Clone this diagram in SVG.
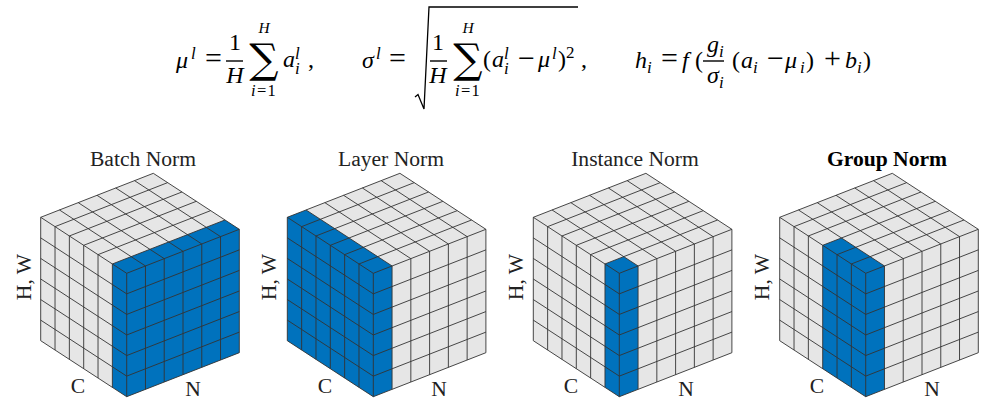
<svg xmlns="http://www.w3.org/2000/svg" width="987" height="408" viewBox="0 0 987 408">
<style>
text{font-family:"Liberation Serif",serif;fill:#222}
.t{font-size:21.6px;text-anchor:middle}
.a{font-size:21.6px;text-anchor:middle}
text.m{font-size:24px;font-style:italic;fill:#000}
text.n{font-size:24px;fill:#000}
.u{font-style:normal}
.o{font-style:normal;font-size:30px}
.s{font-size:17px}
text.l{font-size:15.5px;font-style:italic;fill:#000;text-anchor:middle}
text.i{font-size:16.5px;font-style:italic;fill:#000;text-anchor:middle;letter-spacing:1.2px}
text.S{font-family:"DejaVu Serif",serif;font-size:41px;fill:#000;text-anchor:middle}
.g{fill:#e6e6e6}
.b{fill:#0072bd}
.w{fill:none;stroke:#333;stroke-width:.9}
</style>
<defs>
<path id="hex" class="g" d="M-86-56L26.6-100L112.6-44V79.4L0 123.4L-86 67.4Z"/>
<path id="grid" class="w" d="M0 0V123.4M-14.33-9.33V114.07M-28.67-18.67V104.73M-43-28V95.4M-57.33-37.33V86.07M-71.67-46.67V76.73M-86-56V67.4
M0 0L-86-56M0 20.57L-86-35.43M0 41.13L-86-14.87M0 61.7L-86 5.7M0 82.27L-86 26.27M0 102.83L-86 46.83M0 123.4L-86 67.4
M18.77-7.33V116.07M37.53-14.67V108.73M56.3-22V101.4M75.07-29.33V94.07M93.83-36.67V86.73M112.6-44V79.4
M0 0L112.6-44M0 20.57L112.6-23.43M0 41.13L112.6-2.87M0 61.7L112.6 17.7M0 82.27L112.6 38.27M0 102.83L112.6 58.83M0 123.4L112.6 79.4
M-14.33-9.33L98.27-53.33M-28.67-18.67L83.93-62.67M-43-28L69.6-72M-57.33-37.33L55.27-81.33M-71.67-46.67L40.93-90.67M-86-56L26.6-100
M18.77-7.33L-67.23-63.33M37.53-14.67L-48.47-70.67M56.3-22L-29.7-78M75.07-29.33L-10.93-85.33M93.83-36.67L7.83-92.67M112.6-44L26.6-100"/>
</defs>
<g id="equations">
<text class="m"><tspan x="176" y="68">μ</tspan><tspan class="s" x="191" y="59">l</tspan><tspan class="o" x="205" y="68">=</tspan></text>
<text class="n" x="235" y="50" text-anchor="middle">1</text>
<rect x="226" y="60.3" width="17" height="1.4"/>
<text class="m" x="235" y="83" text-anchor="middle">H</text>
<text class="S" x="264" y="73">∑</text>
<text class="l" x="264" y="33">H</text>
<text class="i" x="264" y="96">i<tspan class="u">=1</tspan></text>
<text class="m"><tspan x="283" y="67">a</tspan><tspan class="s" x="295" y="59">l</tspan><tspan class="s" x="295" y="74">i</tspan><tspan class="u" x="308" y="67">,</tspan></text>
<text class="m"><tspan x="362" y="68">σ</tspan><tspan class="s" x="376" y="59">l</tspan><tspan class="o" x="389" y="68">=</tspan></text>
<path d="M415 97L418 94.500L424 109L429 7H578" fill="none" stroke="#000" stroke-width="1.3"/>
<text class="n" x="438" y="50" text-anchor="middle">1</text>
<rect x="430" y="60.300" width="17" height="1.4"/>
<text class="m" x="438" y="83" text-anchor="middle">H</text>
<text class="S" x="468" y="73">∑</text>
<text class="l" x="468" y="33">H</text>
<text class="i" x="468" y="96">i<tspan class="u">=1</tspan></text>
<text class="m"><tspan class="u" x="483" y="67">(</tspan><tspan x="492" y="67">a</tspan><tspan class="s" x="504" y="59">l</tspan><tspan class="s" x="504" y="74">i</tspan><tspan class="o" x="518" y="68">−</tspan><tspan x="538" y="67">μ</tspan><tspan class="s" x="552" y="59">l</tspan><tspan class="u" x="558" y="67">)</tspan><tspan class="s u" x="566" y="58">2</tspan><tspan class="u" x="581" y="67">,</tspan></text>
<text class="m"><tspan x="635" y="68">h</tspan><tspan class="s" x="647" y="73">i</tspan><tspan class="o" x="661" y="68">=</tspan><tspan x="682" y="68">f</tspan><tspan class="u" x="695" y="68">(</tspan></text>
<text class="m"><tspan x="707" y="52">g</tspan><tspan class="s" x="719" y="57">i</tspan></text>
<rect x="703" y="60.300" width="21" height="1.4"/>
<text class="m"><tspan x="707" y="83">σ</tspan><tspan class="s" x="719" y="88">i</tspan></text>
<text class="m"><tspan class="u" x="732" y="68">(</tspan><tspan x="741" y="68">a</tspan><tspan class="s" x="753" y="73">i</tspan><tspan class="o" x="767" y="68">−</tspan><tspan x="785" y="68">μ</tspan><tspan class="s" x="800" y="73">i</tspan><tspan class="u" x="806" y="68">)</tspan><tspan class="o" x="824" y="68">+</tspan><tspan x="845" y="68">b</tspan><tspan class="s" x="857" y="73">i</tspan><tspan class="u" x="863" y="68">)</tspan></text>
</g>
<g id="batch-norm">
<text class="t" x="143" y="166">Batch Norm</text>
<g transform="translate(126.7 273.3)"><use href="#hex"/><path class="b" d="M-14.33-9.33L98.27-53.33L112.6-44V79.4L0 123.4L-14.33 114.07Z"/><use href="#grid"/></g>
<text class="a" transform="translate(31 277) rotate(-90)">H, W</text>
<text class="a" x="78" y="393">C</text>
<text class="a" x="193" y="396">N</text>
</g>
<g id="layer-norm">
<text class="t" x="391" y="166">Layer Norm</text>
<g transform="translate(373.3 273.3)"><use href="#hex"/><path class="b" d="M-86-56L-67.23-63.33L18.77-7.33V116.07L0 123.4L-86 67.4Z"/><use href="#grid"/></g>
<text class="a" transform="translate(276 277) rotate(-90)">H, W</text>
<text class="a" x="325" y="393">C</text>
<text class="a" x="439" y="396">N</text>
</g>
<g id="instance-norm">
<text class="t" x="635" y="166">Instance Norm</text>
<g transform="translate(619.3 273.3)"><use href="#hex"/><path class="b" d="M-14.33-9.33L4.44-16.67L18.77-7.33V116.07L0 123.4L-14.33 114.07Z"/><use href="#grid"/></g>
<text class="a" transform="translate(523 277) rotate(-90)">H, W</text>
<text class="a" x="571" y="393">C</text>
<text class="a" x="686" y="396">N</text>
</g>
<g id="group-norm">
<text class="t" x="887" y="166" font-weight="bold" style="fill:#000">Group Norm</text>
<g transform="translate(865.7 273.3)"><use href="#hex"/><path class="b" d="M-43-28L-24.23-35.33L18.77-7.33V116.07L0 123.4L-43 95.4Z"/><use href="#grid"/></g>
<text class="a" transform="translate(769 277) rotate(-90)">H, W</text>
<text class="a" x="817" y="393">C</text>
<text class="a" x="932" y="396">N</text>
</g>
</svg>
